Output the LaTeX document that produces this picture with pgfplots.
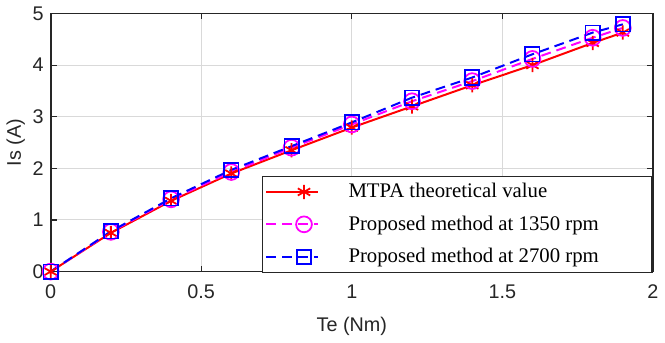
\documentclass[border=0pt]{standalone}
\usepackage{fontspec}
\setmainfont{Liberation Sans}
\newfontfamily\legfont{Liberation Serif}
\usepackage{pgfplots}
\pgfplotsset{compat=1.18}
\definecolor{axgray}{RGB}{38,38,38}
\definecolor{mred}{RGB}{255,0,0}
\definecolor{mmag}{RGB}{255,0,255}
\definecolor{mblue}{RGB}{0,0,255}
\begin{document}
\begin{tikzpicture}
\begin{axis}[
  scale only axis, width=304.5pt, height=130.5pt,
  xmin=0, xmax=2, ymin=0, ymax=5,
  xtick={0,0.5,1,1.5,2}, ytick={0,1,2,3,4,5},
  /pgf/number format/assume math mode=true,
  ticklabel style={font=\fontsize{10}{12}\selectfont, text=axgray},
  xticklabel style={yshift=-3pt},
  label style={font=\fontsize{10}{12}\selectfont, text=axgray},
  xlabel={Te (Nm)}, ylabel={Is (A)},
  xlabel style={yshift=-2.5pt},
  ylabel style={yshift=-3pt},
  grid=major, grid style={black!15, line width=0.5pt},
  axis line style={axgray, line width=0.9pt},
  tick align=inside, tick pos=both,
  major tick length=3pt, tick style={axgray, line width=0.6pt},
  legend style={at={(1,-0.006)}, anchor=south east, draw=axgray, line width=0.8pt,
    font=\legfont\fontsize{10.5}{12}\selectfont, inner sep=1.5pt, row sep=3.6pt,
    column sep=0pt},
  legend cell align=left,
  legend image code/.code={\draw[#1, mark repeat=2, mark phase=2] plot coordinates {(0pt,0pt) (19pt,0pt) (26pt,0pt)};},
]
\addplot[mred, line width=1pt, mark=asterisk, mark size=3.6pt, mark options={solid, line width=0.9pt}]
  coordinates {(0,0) (0.2,0.75) (0.4,1.37) (0.6,1.9) (0.8,2.35) (1.0,2.79) (1.2,3.2) (1.4,3.61) (1.6,4.0) (1.8,4.43) (1.9,4.63)};
\addlegendentry{\hspace{13pt}\makebox[150pt][l]{MTPA theoretical value}}
\addplot[mmag, line width=1pt, dash pattern=on 5pt off 3pt, mark=o, mark size=4pt, mark options={solid, line width=0.9pt}]
  coordinates {(0,0) (0.2,0.77) (0.4,1.4) (0.6,1.93) (0.8,2.4) (1.0,2.85) (1.2,3.3) (1.4,3.69) (1.6,4.12) (1.8,4.53) (1.9,4.72)};
\addlegendentry{\hspace{13pt}\makebox[150pt][l]{Proposed method at 1350 rpm}}
\addplot[mblue, line width=1pt, dash pattern=on 5pt off 3pt, mark=square, mark size=3.6pt, mark options={solid, line width=0.9pt}]
  coordinates {(0,0) (0.2,0.78) (0.4,1.42) (0.6,1.97) (0.8,2.43) (1.0,2.89) (1.2,3.37) (1.4,3.76) (1.6,4.21) (1.8,4.63) (1.9,4.79)};
\addlegendentry{\hspace{13pt}\makebox[150pt][l]{Proposed method at 2700 rpm}}
\end{axis}
\end{tikzpicture}
\end{document}
